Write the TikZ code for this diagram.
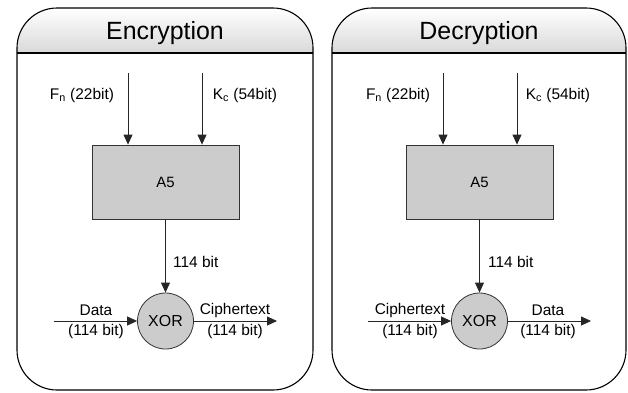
\documentclass[tikz,border=0pt]{standalone}
\usepackage{fontspec}
\setmainfont{Liberation Sans}
\usetikzlibrary{arrows.meta,positioning,calc}

\tikzset{
	panel/.style = {line width=1.1bp, rounded corners=40bp},
	block/.style = {draw=black!80, line width=0.8bp, fill=gray!40, minimum width=147bp, minimum height=74bp, font=\fontsize{15}{17}\selectfont},
	xorgate/.style = {circle, draw=black!80, line width=0.8bp, fill=gray!40, minimum size=56bp, inner sep=0pt, font=\fontsize{16}{18}\selectfont},
	arr/.style = {-{Triangle[length=10bp,width=9bp]}, line width=0.8bp, draw=black!85},
	lbl/.style = {inner sep=0pt, font=\fontsize{15.5}{17}\selectfont},
	title/.style = {inner sep=0pt, anchor=base, font=\fontsize{25}{28}\selectfont}
}

\begin{document}
\begin{tikzpicture}[x=1bp, y=-1bp]
		\useasboundingbox (0,0) rectangle (628,392);
		% panels
		\begin{scope}
			\clip [rounded corners=40bp] (17,8) rectangle (313,390);
			\shade [top color=white, bottom color=gray!30] (17,8) rectangle (313,53);
		\end{scope}
		\begin{scope}
			\clip [rounded corners=40bp] (332,8) rectangle (626,390);
			\shade [top color=white, bottom color=gray!30] (332,8) rectangle (626,53);
		\end{scope}
		\draw [panel] (17,8) rectangle (313,390);
		\draw [line width=1.1bp] (17,53) -- (313,53);
		\draw [panel] (332,8) rectangle (626,390);
		\draw [line width=1.1bp] (332,53) -- (626,53);
		\node [title] (enc) at (165,39.5) {Encryption};
		\node [title] (dec) at (479,39.5) {Decryption};

		% encryption
		\node [block] (a5_enc) at (165.5,182) {A5};
		\node [xorgate] (xor_enc) at (165.5,321) {XOR};
		\coordinate (fn_enc) at (128,73);
		\coordinate (kc_enc) at (202,73);
		\node [lbl] (fnlbl_enc) at (82,95) {F\textsubscript{n} (22bit)};
		\node [lbl] (kclbl_enc) at (245,95) {K\textsubscript{c} (54bit)};
		\draw [arr] (fn_enc) -- (fn_enc |- a5_enc.north);
		\draw [arr] (kc_enc) -- (kc_enc |- a5_enc.north);
		\draw [arr] (a5_enc.south) -- (xor_enc.north);
		\node [lbl, anchor=west] (bits_enc) at (173,262) {114 bit};
		\coordinate (in_enc) at (54,321);
		\coordinate (out_enc) at (277,321);
		\draw [arr] (in_enc) -- (xor_enc.west);
		\draw [arr] (xor_enc.east) -- (out_enc);
		\node [lbl] (data_enc) at (96,310) {Data};
		\node [lbl] (datab_enc) at (96,331) {(114 bit)};
		\node [lbl] (ciph_enc) at (235,310) {Ciphertext};
		\node [lbl] (ciphb_enc) at (235,331) {(114 bit)};

		% decryption
		\node [block] (a5_dec) at (479.5,182) {A5};
		\node [xorgate] (xor_dec) at (479.5,321) {XOR};
		\coordinate (fn_dec) at (443,73);
		\coordinate (kc_dec) at (517,73);
		\node [lbl] (fnlbl_dec) at (398,95) {F\textsubscript{n} (22bit)};
		\node [lbl] (kclbl_dec) at (558,95) {K\textsubscript{c} (54bit)};
		\draw [arr] (fn_dec) -- (fn_dec |- a5_dec.north);
		\draw [arr] (kc_dec) -- (kc_dec |- a5_dec.north);
		\draw [arr] (a5_dec.south) -- (xor_dec.north);
		\node [lbl, anchor=west] (bits_dec) at (488,262) {114 bit};
		\coordinate (in_dec) at (368,321);
		\coordinate (out_dec) at (591,321);
		\draw [arr] (in_dec) -- (xor_dec.west);
		\draw [arr] (xor_dec.east) -- (out_dec);
		\node [lbl] (ciph_dec) at (410,310) {Ciphertext};
		\node [lbl] (ciphb_dec) at (410,331) {(114 bit)};
		\node [lbl] (data_dec) at (548,310) {Data};
		\node [lbl] (datab_dec) at (548,331) {(114 bit)};
\end{tikzpicture}
\end{document}
